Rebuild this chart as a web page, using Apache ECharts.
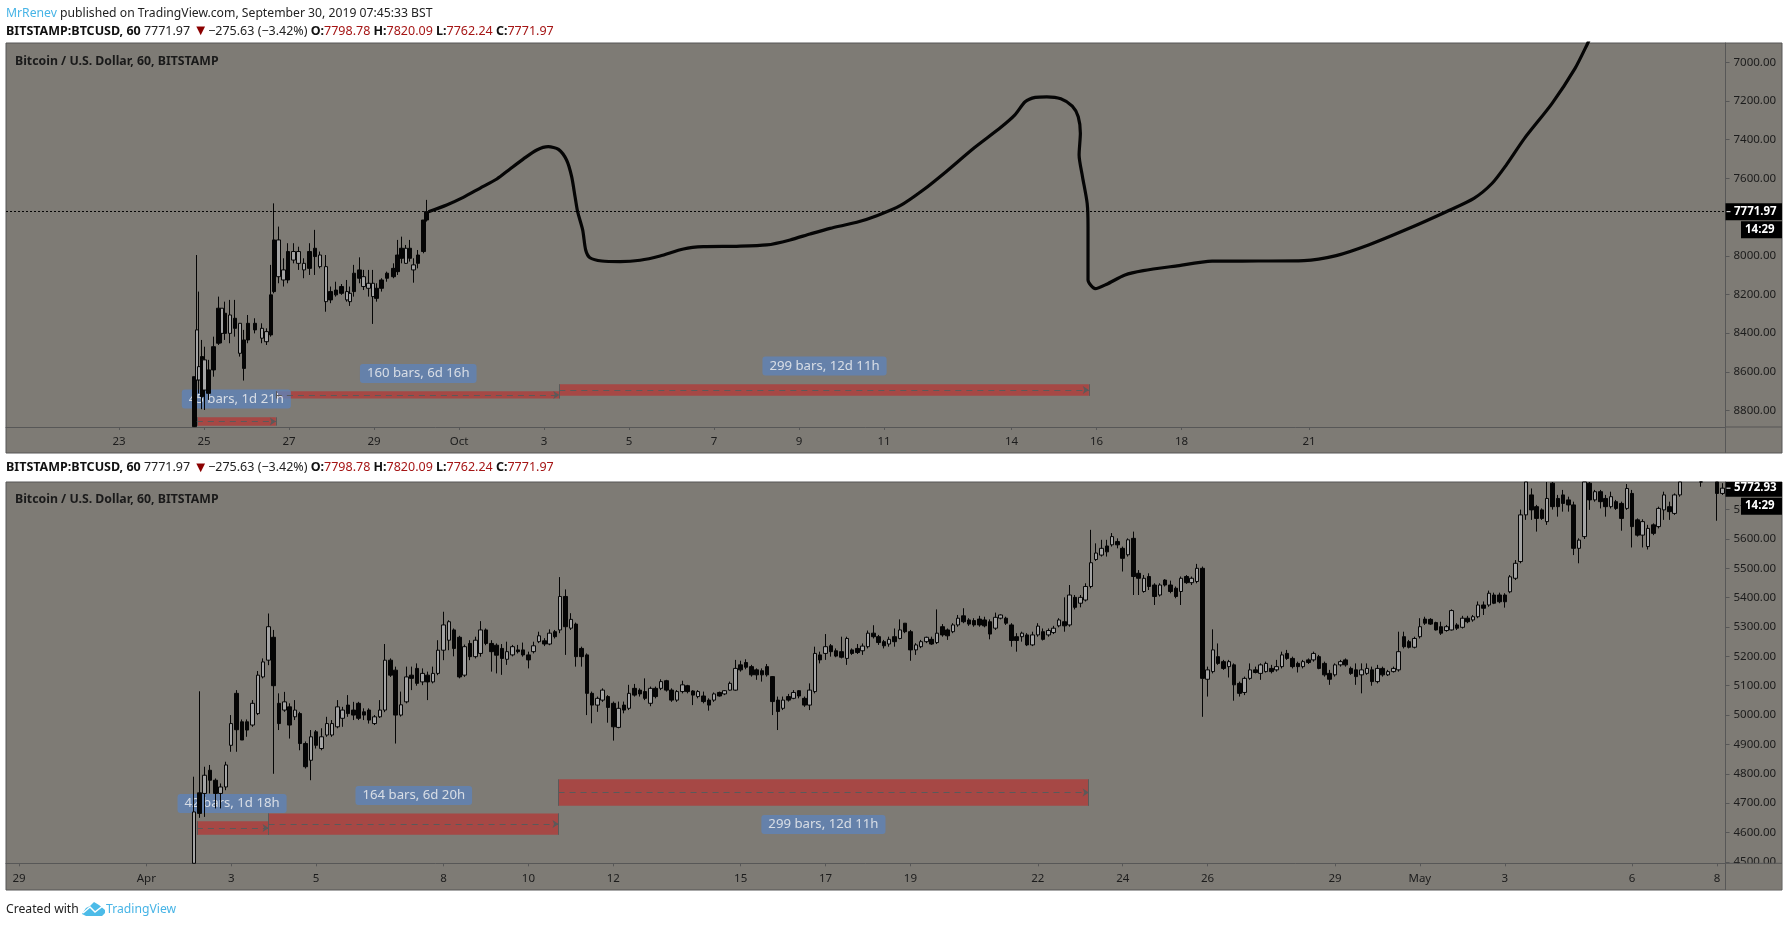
<!DOCTYPE html>
<html>
<head>
<meta charset="utf-8">
<title>BTCUSD fractal</title>
<script src="https://cdn.jsdelivr.net/npm/echarts@6/dist/echarts.min.js"></script>
<style>
  html, body { margin: 0; padding: 0; background: #fff; }
  #chart { width: 1788px; height: 927px; }
</style>
</head>
<body>
<div id="chart"></div>
<script>
/* ---------------------------------- data ---------------------------------- */

// x is counted in days: top panel from Sep 0, bottom panel from Mar 0
const topDayTicks = [23, 25, 27, 29, 31, 33, 35, 37, 39, 41, 44, 46, 48, 51];
const topDayLabels = ['23', '25', '27', '29', 'Oct', '3', '5', '7', '9', '11', '14', '16', '18', '21'];
const bottomDayTicks = [29, 32, 34, 36, 39, 41, 43, 46, 48, 50, 53, 55, 57, 60, 62, 64, 67, 69];
const bottomDayLabels = ['29', 'Apr', '3', '5', '8', '10', '12', '15', '17', '19', '22', '24', '26', '29', 'May', '3', '6', '8'];
const topPriceTicks = [7000, 7200, 7400, 7600, 7800, 8000, 8200, 8400, 8600, 8800];
const bottomPriceTicks = [4500, 4600, 4700, 4800, 4900, 5000, 5100, 5200, 5300, 5400, 5500, 5600, 5700];

const lastPriceTop = 7771.97;
const lastPriceBottom = 5772.93;

// [day, open, close, low, high]
const topCandles = [
  [24.77,8883,8625,8625,8885],[24.83,8383,8642,7996,8645],[24.88,8573,8642,8185,8711],[24.95,8728,8521,8435,8793],
  [25.01,8538,8694,8470,8797],[25.10,8711,8590,8538,8745],[25.22,8590,8470,8418,8625],[25.34,8452,8271,8211,8461],
  [25.42,8271,8401,8271,8452],[25.49,8401,8297,8237,8435],[25.61,8306,8401,8228,8452],[25.73,8375,8323,8228,8418],
  [25.85,8349,8504,8349,8521],[25.94,8582,8435,8383,8645],[26.04,8435,8349,8306,8452],[26.20,8383,8349,8323,8401],
  [26.36,8375,8426,8349,8452],[26.47,8392,8444,8375,8461],[26.57,8409,8202,8047,8418],[26.65,8185,7918,7729,8194],
  [26.75,7918,8108,7849,8142],[26.87,8073,8125,8013,8159],[26.98,8125,7978,7935,8142],[27.10,7978,8022,7935,8039],
  [27.22,7978,8039,7953,8073],[27.35,8039,8073,8013,8116],[27.48,8065,7978,7935,8099],[27.61,8004,7961,7866,8099],
  [27.73,7996,8056,7978,8065],[27.87,8056,8237,7996,8289],[27.98,8228,8185,8159,8245],[28.11,8202,8177,8134,8211],
  [28.24,8194,8159,8146,8202],[28.36,8185,8228,8125,8237],[28.44,8194,8237,8159,8259],[28.53,8185,8090,8047,8211],
  [28.66,8116,8073,8008,8142],[28.75,8108,8159,8073,8177],[28.87,8142,8168,8073,8211],[28.97,8142,8211,8073,8352],
  [29.06,8220,8168,8142,8237],[29.18,8168,8125,8116,8185],[29.31,8116,8090,8082,8134],[29.46,8108,8065,8039,8116],
  [29.55,8082,7996,7918,8099],[29.65,8013,7961,7901,8039],[29.75,7961,8039,7944,8042],[29.85,8013,7961,7918,8030],
  [29.93,8047,8073,8013,8139],[30.04,8039,7996,7970,8065],[30.16,7978,7815,7815,7987],[30.24,7815,7772,7711,7823]
];

// hand drawn projection on the top panel: [day, price]
const topProjection = [
  [30.28,7772],[30.71,7737],[31.10,7698],[31.49,7651],[31.89,7603],[32.20,7551],[32.51,7500],[32.83,7453],[33.10,7436],
  [33.34,7450],[33.53,7505],[33.65,7591],[33.73,7695],[33.79,7772],[33.91,7867],[33.98,7970],[34.08,8010],[34.36,8027],
  [34.79,8030],[35.26,8023],[35.73,8001],[36.28,7965],[36.75,7953],[37.53,7951],[38.24,7944],[38.79,7918],[39.26,7887],
  [39.73,7858],[40.36,7827],[40.83,7793],[41.38,7741],[41.92,7660],[42.46,7565],[43.11,7444],[43.75,7336],[44.08,7272],
  [44.32,7204],[44.56,7181],[44.83,7178],[45.16,7188],[45.43,7226],[45.57,7281],[45.62,7367],[45.59,7479],[45.67,7591],
  [45.78,7729],[45.80,7850],[45.80,8005],[45.80,8125],[45.97,8170],[46.24,8147],[46.67,8099],[47.10,8077],[47.86,8053],
  [48.72,8028],[49.80,8027],[50.88,8025],[51.64,7999],[52.40,7944],[53.26,7867],[54.23,7772],[54.88,7703],[55.31,7625],
  [55.64,7531],[56.07,7393],[56.72,7212],[57.26,7031],[57.55,6905],[57.62,6870]
];

// three hour bars from Apr 2, [open, close, low, high]
const bottomFirstDay = 33.125;
const bottomBarDays = 0.125;
const bottomCandles = [
  [4495,4670,4495,4790],[4735,4665,4650,5081],[4733,4795,4653,4824],[4812,4778,4733,4830],[4778,4733,4682,4784],[4733,4755,4682,4767],[4755,4830,4744,4841],[4897,4971,4875,5000],
  [5074,4950,4875,5085],[4977,4915,4915,4985],[4977,4949,4926,4985],[4966,5040,4960,5051],[5005,5136,5000,5150],[5130,5181,5125,5193],[5187,5301,5170,5346],[5265,5100,4800,5290],
  [5040,4971,4949,5074],[5017,5045,5011,5079],[5028,4966,4920,5040],[4994,5017,4983,5051],[5005,4903,4880,5011],[4903,4824,4818,4910],[4846,4926,4778,4949],[4943,4897,4886,4949],
  [4886,4926,4880,4955],[4932,4971,4926,4994],[4932,4971,4926,4983],[4960,5028,4955,5051],[4989,5017,4960,5028],[5034,5005,4994,5068],[5017,5000,4983,5045],[5040,4989,4983,5045],
  [5011,5000,4983,5023],[5017,4983,4971,5023],[4971,4994,4966,5000],[4994,5017,4990,5051],[5017,5187,5010,5242],[5187,5136,5130,5193],[5153,5000,4903,5165],[5000,5035,4995,5080],
  [5045,5130,5040,5165],[5136,5125,5085,5165],[5159,5108,5100,5176],[5113,5142,5102,5159],[5136,5113,5051,5148],[5113,5142,5108,5165],[5142,5221,5136,5255],[5221,5307,5187,5352],
  [5255,5318,5221,5323],[5290,5227,5200,5295],[5265,5130,5125,5270],[5136,5233,5130,5240],[5244,5199,5187,5255],[5199,5255,5193,5267],[5210,5290,5199,5320],[5290,5244,5238,5295],
  [5244,5216,5148,5255],[5238,5204,5142,5244],[5227,5193,5137,5242],[5190,5216,5171,5250],[5205,5233,5200,5239],[5222,5216,5210,5239],[5222,5205,5199,5247],[5205,5188,5159,5216],
  [5216,5236,5210,5250],[5250,5270,5245,5284],[5253,5242,5235,5262],[5242,5279,5238,5292],[5284,5267,5261,5290],[5290,5404,5279,5470],[5404,5301,5205,5428],[5296,5326,5290,5347],
  [5310,5199,5165,5315],[5227,5199,5165,5233],[5205,5074,5000,5210],[5074,5034,4972,5080],[5034,5057,5011,5063],[5051,5085,5045,5091],[5063,5026,4974,5068],[5040,4960,4913,5046],
  [4958,5023,4955,5046],[5034,5017,5006,5046],[5023,5074,5017,5103],[5091,5068,5063,5106],[5085,5072,5063,5091],[5080,5057,5051,5125],[5040,5091,5030,5097],[5091,5063,5057,5097],
  [5091,5114,5085,5122],[5117,5085,5080,5120],[5085,5051,5045,5091],[5051,5080,5045,5085],[5080,5103,5074,5117],[5100,5080,5074,5103],[5082,5068,5034,5085],[5063,5080,5057,5085],
  [5065,5046,5040,5080],[5051,5034,5015,5057],[5051,5072,5045,5077],[5077,5065,5063,5080],[5072,5083,5068,5085],[5085,5108,5083,5114],[5085,5159,5083,5188],[5171,5154,5148,5185],
  [5179,5163,5156,5190],[5165,5137,5131,5171],[5154,5137,5120,5159],[5151,5137,5114,5159],[5165,5137,5131,5174],[5131,5046,5000,5133],[5051,5012,4949,5063],[5023,5051,5017,5063],
  [5063,5051,5046,5072],[5057,5077,5054,5085],[5083,5065,5057,5085],[5057,5034,5028,5063],[5034,5085,5017,5108],[5080,5210,5074,5233],[5205,5188,5176,5216],[5210,5233,5188,5276],
  [5236,5216,5199,5242],[5219,5201,5197,5227],[5216,5197,5193,5267],[5193,5261,5171,5267],[5222,5210,5205,5227],[5227,5213,5208,5242],[5219,5235,5205,5244],[5233,5279,5227,5288],
  [5279,5267,5261,5306],[5267,5247,5239,5273],[5250,5236,5227,5256],[5242,5258,5233,5267],[5267,5250,5233,5295],[5261,5290,5258,5326],[5313,5284,5279,5313],[5284,5222,5185,5290],
  [5222,5239,5205,5245],[5233,5250,5228,5256],[5250,5265,5245,5267],[5258,5242,5239,5267],[5247,5279,5242,5360],[5301,5273,5267,5310],[5290,5270,5256,5295],[5284,5307,5279,5313],
  [5307,5330,5301,5341],[5338,5318,5313,5364],[5324,5310,5304,5330],[5322,5307,5301,5330],[5327,5307,5301,5338],[5324,5304,5299,5335],[5318,5276,5258,5326],[5296,5333,5290,5349],
  [5330,5341,5326,5343],[5330,5313,5307,5335],[5307,5254,5233,5313],[5267,5254,5216,5279],[5267,5279,5250,5284],[5273,5239,5235,5279],[5239,5273,5235,5284],[5273,5303,5267,5313],
  [5284,5258,5254,5295],[5273,5288,5267,5295],[5281,5296,5276,5304],[5304,5324,5299,5330],[5318,5304,5284,5401],[5307,5409,5301,5443],[5401,5367,5360,5409],[5381,5401,5367,5409],
  [5392,5438,5387,5449],[5438,5519,5432,5631],[5530,5552,5525,5585],[5545,5568,5540,5597],[5576,5556,5540,5597],[5580,5608,5574,5620],[5591,5580,5568,5602],[5568,5534,5489,5574],
  [5546,5597,5540,5602],[5602,5472,5409,5625],[5483,5466,5409,5494],[5421,5466,5417,5477],[5472,5438,5426,5483],[5443,5404,5375,5449],[5409,5443,5404,5449],[5460,5443,5438,5463],
  [5443,5421,5415,5458],[5432,5404,5398,5438],[5421,5466,5375,5472],[5472,5451,5447,5477],[5451,5466,5443,5472],[5455,5500,5449,5515],[5500,5125,4994,5506],[5122,5154,5063,5165],
  [5148,5222,5142,5292],[5199,5176,5171,5244],[5182,5159,5154,5188],[5165,5182,5128,5188],[5171,5103,5049,5176],[5108,5074,5063,5114],[5077,5125,5068,5131],[5125,5154,5120,5176],
  [5154,5145,5142,5165],[5142,5171,5120,5176],[5148,5176,5145,5182],[5159,5148,5142,5171],[5154,5165,5148,5188],[5165,5205,5159,5216],[5210,5193,5188,5222],[5193,5165,5159,5199],
  [5176,5165,5145,5182],[5165,5182,5159,5188],[5188,5179,5174,5193],[5188,5210,5182,5216],[5199,5159,5156,5205],[5176,5137,5131,5182],[5142,5122,5103,5154],[5137,5171,5131,5176],
  [5171,5182,5165,5188],[5188,5171,5165,5193],[5159,5142,5137,5165],[5154,5131,5103,5176],[5137,5154,5074,5176],[5142,5159,5137,5176],[5154,5114,5100,5165],[5114,5159,5108,5171],
  [5159,5137,5131,5165],[5137,5148,5133,5154],[5148,5159,5145,5165],[5154,5216,5148,5284],[5267,5233,5227,5284],[5250,5231,5227,5256],[5231,5261,5227,5267],[5267,5301,5261,5330],
  [5327,5313,5307,5335],[5326,5310,5307,5330],[5315,5290,5288,5318],[5301,5279,5273,5318],[5288,5301,5284,5307],[5290,5356,5288,5360],[5307,5296,5290,5313],[5299,5330,5295,5338],
  [5330,5318,5313,5338],[5324,5335,5318,5341],[5335,5375,5330,5387],[5375,5364,5341,5387],[5375,5415,5369,5424],[5409,5381,5378,5417],[5409,5386,5381,5417],[5409,5386,5366,5415],
  [5420,5471,5415,5477],[5466,5517,5460,5528],[5523,5682,5517,5700],[5682,5800,5665,5810],[5750,5699,5665,5772],[5710,5670,5625,5716],[5699,5670,5665,5704],[5659,5738,5648,5795],
  [5790,5710,5700,5800],[5738,5710,5676,5750],[5750,5721,5693,5767],[5733,5716,5693,5744],[5716,5568,5545,5727],[5568,5596,5517,5602],[5608,5795,5600,5800],[5790,5733,5699,5800],
  [5733,5761,5727,5767],[5761,5727,5704,5767],[5738,5710,5676,5750],[5710,5744,5704,5761],[5727,5704,5699,5733],[5721,5670,5628,5727],[5704,5772,5699,5787],[5755,5642,5571,5767],
  [5665,5613,5608,5670],[5613,5659,5571,5667],[5574,5636,5564,5648],[5648,5619,5613,5653],[5642,5704,5636,5710],[5699,5750,5665,5761],[5710,5693,5665,5727],[5687,5750,5682,5755],
  [5750,5795,5744,5800],[5800,5820,5796,5830],[5820,5830,5812,5840],[5830,5825,5812,5845],[5825,5815,5778,5835],[5815,5820,5805,5830],[5820,5810,5800,5830],[5795,5755,5662,5810],
  [5755,5772.93,5750,5790]
];

// date range tools: [dayFrom, dayTo, priceA, priceB]
const topRanges = [
  [24.83, 26.69, 8835, 8878],
  [26.69, 33.36, 8700, 8738],
  [33.36, 45.82, 8664, 8724]
];
const bottomRanges = [
  [33.19, 34.88, 4592, 4638],
  [34.88, 41.71, 4592, 4665],
  [41.71, 54.20, 4691, 4781]
];
// [day, price, text]
const topRangeLabels = [
  [25.76, 8740, '45 bars, 1d 21h'],
  [30.04, 8608, '160 bars, 6d 16h'],
  [39.60, 8570, '299 bars, 12d 11h']
];
const bottomRangeLabels = [
  [34.02, 4699, '42 bars, 1d 18h'],
  [38.30, 4726, '164 bars, 6d 20h'],
  [47.95, 4627, '299 bars, 12d 11h']
];

/* --------------------------------- styles --------------------------------- */

const FONT = '"Noto Sans", sans-serif';
const PANEL = '#7e7b75';
const BORDER = '#575757';
const TEXT = '#1c1c1c';
const PLOT_RIGHT = 1725.5;
const PANEL_LEFT = 6;
const PANEL_RIGHT = 1782;
const BOTTOM_MIN = 4495;
const BOTTOM_MAX = 5794;

const xAxisFor = (gridIndex, min, max, ticks, labels) => ({
  type: 'value',
  gridIndex,
  min,
  max,
  position: 'bottom',
  splitLine: { show: false },
  axisLine: { show: true, onZero: false, lineStyle: { color: BORDER } },
  axisTick: { show: true, length: 3, customValues: ticks, lineStyle: { color: BORDER } },
  axisLabel: {
    customValues: ticks,
    margin: 9,
    color: TEXT,
    fontFamily: FONT,
    fontSize: 11.5,
    formatter: v => labels[ticks.indexOf(v)]
  }
});

const yAxisFor = (gridIndex, min, max, ticks, inverse) => ({
  type: 'value',
  gridIndex,
  min,
  max,
  inverse,
  position: 'right',
  splitLine: { show: false },
  axisLine: { show: true, onZero: false, lineStyle: { color: BORDER } },
  axisTick: { show: true, length: 4, customValues: ticks, lineStyle: { color: BORDER } },
  axisLabel: {
    customValues: ticks,
    margin: 8,
    color: TEXT,
    fontFamily: FONT,
    fontSize: 11.5,
    formatter: v => v.toFixed(2)
  }
});

const candleSeries = (index, data) => ({
  type: 'candlestick',
  xAxisIndex: index,
  yAxisIndex: index,
  z: 3,
  barWidth: 4,
  encode: { x: 0, y: [1, 2, 3, 4] },
  itemStyle: {
    color: '#a4a4a4',
    color0: '#050505',
    borderColor: '#050505',
    borderColor0: '#050505',
    borderWidth: 1
  },
  data
});

const labelSeries = (index, labels) => ({
  type: 'scatter',
  xAxisIndex: index,
  yAxisIndex: index,
  z: 1,
  symbolSize: 1,
  itemStyle: { color: 'transparent' },
  label: {
    show: true,
    position: 'inside',
    formatter: p => p.value[2],
    color: '#f4f4f4',
    fontFamily: FONT,
    fontSize: 13.2,
    backgroundColor: '#5f83b8',
    borderRadius: 3,
    padding: [3, 7]
  },
  data: labels
});

// red boxes lie over the blue labels, only the candles are above them
const rangeSeries = (index, ranges) => ({
  type: 'scatter',
  xAxisIndex: index,
  yAxisIndex: index,
  z: 2,
  symbolSize: 0,
  markArea: {
    silent: true,
    itemStyle: { color: 'rgba(190, 40, 40, 0.62)', borderWidth: 0 },
    data: ranges.map(r => [{ coord: [r[0], r[2]] }, { coord: [r[1], r[3]] }])
  },
  markLine: {
    silent: true,
    animation: false,
    symbol: 'none',
    label: { show: false },
    lineStyle: { color: '#5a5a5a', width: 1, type: 'solid' },
    data: ranges.flatMap(r => {
      const mid = (r[2] + r[3]) / 2;
      return [
        [{ coord: [r[0], r[2]] }, { coord: [r[0], r[3]] }],
        [{ coord: [r[1], r[2]] }, { coord: [r[1], r[3]] }],
        [
          { coord: [r[0], mid], symbol: 'none', lineStyle: { type: [6, 5], color: '#5a5a5a', width: 1 } },
          { coord: [r[1], mid], symbol: 'arrow', symbolSize: 6 }
        ]
      ];
    })
  },
  data: []
});

/* --------------------------------- chart ---------------------------------- */

const chart = echarts.init(document.getElementById('chart'));

// candlestick only drops fully hidden bars, the rest would spill over the panel
const clampPrice = v => Math.min(BOTTOM_MAX, Math.max(BOTTOM_MIN, v));
const bottomRows = bottomCandles
  .map((c, i) => [bottomFirstDay + i * bottomBarDays, ...c])
  .filter(r => r[3] < BOTTOM_MAX)
  .map(r => [r[0], ...r.slice(1).map(clampPrice)]);

chart.setOption({
  animation: false,
  backgroundColor: '#ffffff',
  grid: [
    { left: PANEL_LEFT, right: 1788 - PLOT_RIGHT, top: 43, height: 384 },
    { left: PANEL_LEFT, right: 1788 - PLOT_RIGHT, top: 482, height: 381.3 }
  ],
  xAxis: [
    xAxisFor(0, 20.34, 60.8, topDayTicks, topDayLabels),
    xAxisFor(1, 28.694, 69.2, bottomDayTicks, bottomDayLabels)
  ],
  yAxis: [
    yAxisFor(0, 6900, 8885, topPriceTicks, true),
    yAxisFor(1, BOTTOM_MIN, BOTTOM_MAX, bottomPriceTicks, false)
  ],
  series: [
    labelSeries(0, topRangeLabels),
    labelSeries(1, bottomRangeLabels),
    rangeSeries(0, topRanges),
    rangeSeries(1, bottomRanges),
    candleSeries(0, topCandles),
    candleSeries(1, bottomRows),
    {
      type: 'line',
      xAxisIndex: 0,
      yAxisIndex: 0,
      z: 4,
      smooth: 0.25,
      symbol: 'none',
      lineStyle: { color: '#050505', width: 3.2 },
      markLine: {
        silent: true,
        symbol: 'none',
        label: { show: false },
        lineStyle: { color: '#050505', width: 1, type: [2, 2] },
        data: [{ yAxis: lastPriceTop }]
      },
      data: topProjection
    }
  ]
});

/* ------------------------- panel chrome and the text ------------------------ */

const text = (x, y, value, style) => ({
  type: 'text',
  x,
  y,
  z: 20,
  style: {
    text: value,
    fill: TEXT,
    font: `12.2px ${FONT}`,
    verticalAlign: 'middle',
    ...style
  }
});

const rect = (x, y, width, height, style, z) => ({
  type: 'rect',
  z,
  shape: { x, y, width, height },
  style
});

const line = (x1, y1, x2, y2, color, z) => ({
  type: 'line',
  z,
  shape: { x1, y1, x2, y2 },
  style: { stroke: color, lineWidth: 1 }
});

const headerRich = {
  b: { font: `bold 12.5px ${FONT}`, fill: '#111111' },
  n: { font: `12.5px ${FONT}`, fill: '#222222' },
  v: { font: `12.5px ${FONT}`, fill: '#a51515' },
  t: { font: `15px ${FONT}`, fill: '#8b0000' }
};
const headerLine = `{b|BITSTAMP:BTCUSD, 60} {n|7771.97} {t|▼}{n|−275.63 (−3.42%)} {b|O:}{v|7798.78} {b|H:}{v|7820.09} {b|L:}{v|7762.24} {b|C:}{v|7771.97}`;

// price tag sitting on the axis, with the countdown under it
const priceTag = (axisIndex, price, panelTop) => {
  const y = chart.convertToPixel({ yAxisIndex: axisIndex }, price);
  const top = Math.max(panelTop, y - 8.5);
  const bottom = y + 8.5;
  return [
    rect(PLOT_RIGHT, top, PANEL_RIGHT - PLOT_RIGHT, bottom - top, { fill: '#000000' }, 15),
    line(PLOT_RIGHT + 1, y, PLOT_RIGHT + 5, y, '#ffffff', 16),
    text(1734, y, price.toFixed(2), { fill: '#ffffff', font: `bold 11.5px ${FONT}` }),
    rect(1741, bottom + 1, PANEL_RIGHT - 1741, 17, { fill: '#000000' }, 15),
    text(1745, bottom + 9.5, '14:29', { fill: '#ffffff', font: `bold 11.5px ${FONT}` })
  ];
};

chart.setOption({
  graphic: [
    // panels
    rect(PANEL_LEFT, 43, PANEL_RIGHT - PANEL_LEFT, 410, { fill: PANEL, stroke: BORDER, lineWidth: 1 }, -10),
    rect(PANEL_LEFT, 482, PANEL_RIGHT - PANEL_LEFT, 408, { fill: PANEL, stroke: BORDER, lineWidth: 1 }, -10),
    line(PLOT_RIGHT, 427, PLOT_RIGHT, 453, BORDER, 5),
    line(PLOT_RIGHT, 863.3, PLOT_RIGHT, 890, BORDER, 5),
    line(PLOT_RIGHT, 427, PANEL_RIGHT, 427, BORDER, 5),
    // hides the lower half of the 4500 label like the original
    rect(PLOT_RIGHT + 0.5, 863.8, PANEL_RIGHT - PLOT_RIGHT - 1, 25.7, { fill: PANEL }, 10),
    line(PLOT_RIGHT, 863.3, PANEL_RIGHT, 863.3, BORDER, 11),

    text(6, 14, '{u|MrRenev} published on TradingView.com, September 30, 2019 07:45:33 BST', {
      rich: { u: { font: `12.2px ${FONT}`, fill: '#47b4e6' } },
      fill: '#222222'
    }),
    text(6, 31, headerLine, { rich: headerRich }),
    text(6, 467.5, headerLine, { rich: headerRich }),
    text(15, 61, 'Bitcoin / U.S. Dollar, 60, BITSTAMP', { font: `bold 12.3px ${FONT}`, fill: '#1a1a1a' }),
    text(15, 499, 'Bitcoin / U.S. Dollar, 60, BITSTAMP', { font: `bold 12.3px ${FONT}`, fill: '#1a1a1a' }),

    ...priceTag(0, lastPriceTop, 43),
    ...priceTag(1, lastPriceBottom, 482),

    // footer
    text(6, 910, 'Created with', { fill: '#222222' }),
    {
      type: 'polygon',
      z: 20,
      shape: {
        points: [[82, 914], [86, 908], [90, 906], [94, 902], [99, 905], [105, 910], [105, 913], [102, 916], [86, 916]]
      },
      style: { fill: '#4cbbe8' }
    },
    {
      type: 'polyline',
      z: 21,
      shape: { points: [[83, 913], [90, 907], [95, 912], [104, 905]] },
      style: { stroke: '#ffffff', lineWidth: 1.5, fill: 'none' }
    },
    text(106, 910, 'TradingView', { fill: '#47b4e6' })
  ]
});

window.addEventListener('resize', () => chart.resize());
</script>
</body>
</html>
